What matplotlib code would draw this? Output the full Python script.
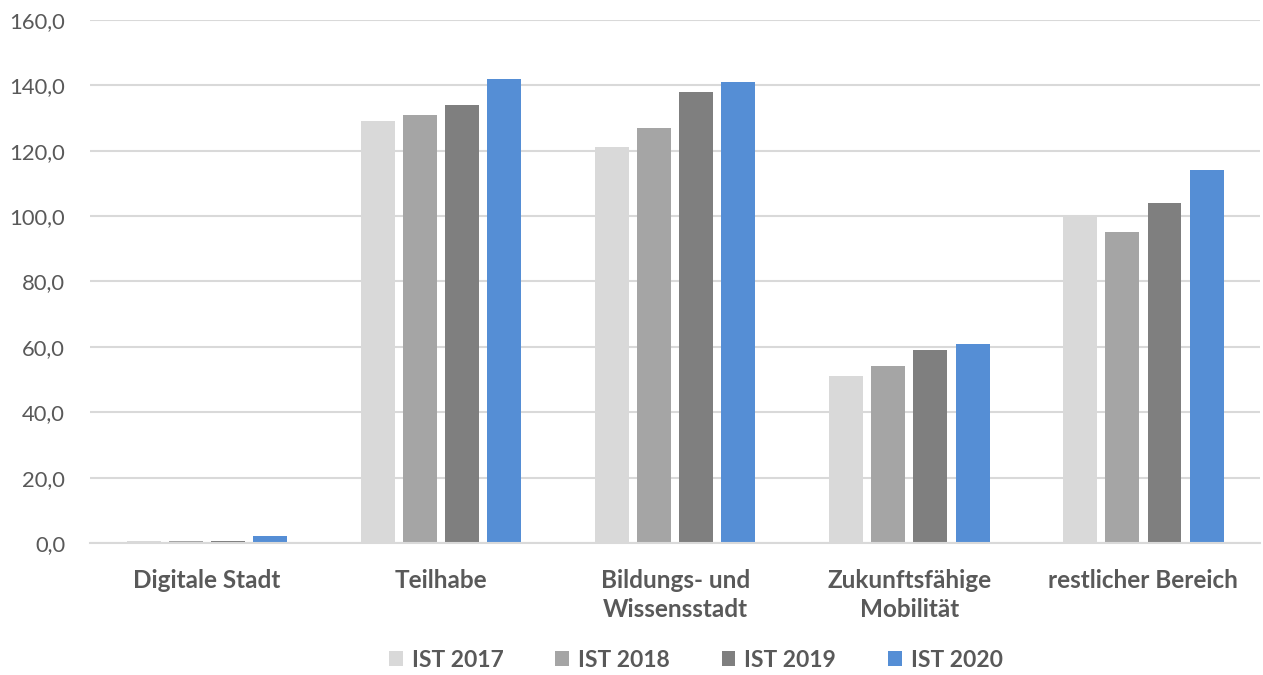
import numpy as np
import matplotlib.pyplot as plt
from matplotlib.ticker import FuncFormatter

plt.rcParams['font.family'] = ['Lato', 'DejaVu Sans']

categories = ['Digitale Stadt', 'Teilhabe', 'Bildungs- und\nWissensstadt',
              'Zukunftsfähige\nMobilität', 'restlicher Bereich']
series_names = ['IST 2017', 'IST 2018', 'IST 2019', 'IST 2020']
ist_2017 = [0.5, 129, 121, 51, 100]
ist_2018 = [0.5, 131, 127, 54, 95]
ist_2019 = [0.5, 134, 138, 59, 104]
ist_2020 = [2.0, 142, 141, 61, 114]
colors = ['#d9d9d9', '#a5a5a5', '#7f7f7f', '#558ed5']

text_col = '#595959'

fig = plt.figure(figsize=(12.63, 6.75), dpi=100)
ax = fig.add_axes([0.0713, 0.1956, 0.9267, 0.7748])

x = np.arange(len(categories))
step = 0.18
width = 0.145
handles = []
for i, (vals, name) in enumerate(zip([ist_2017, ist_2018, ist_2019, ist_2020], series_names)):
    b = ax.bar(x + (i - 1.5) * step, vals, width, color=colors[i], label=name, zorder=3)
    handles.append(b)

ax.set_xlim(-0.5, len(categories) - 0.5)
ax.set_ylim(0, 160)
ax.set_yticks(np.arange(0, 161, 20))
ax.yaxis.set_major_formatter(FuncFormatter(lambda v, p: '{:.1f}'.format(v).replace('.', ',')))
ax.grid(axis='y', color='#d9d9d9', linewidth=1.5, zorder=0)
ax.set_xticks(x)
ax.set_xticklabels(categories, fontweight='bold', fontsize=17.5, color=text_col, linespacing=1.3)
for s in ['top', 'right', 'left']:
    ax.spines[s].set_visible(False)
ax.spines['bottom'].set_color('#d9d9d9')
ax.spines['bottom'].set_linewidth(1.5)
ax.spines['bottom'].set_zorder(4)
ax.tick_params(axis='x', length=0, pad=19)
ax.tick_params(axis='y', length=0, pad=18, labelsize=15.8, labelcolor=text_col)

leg = fig.legend(handles=handles, loc='center', bbox_to_anchor=(0.551, 0.022), ncol=4,
                 frameon=False, handlelength=0.6, handleheight=0.6, handletextpad=0.4,
                 columnspacing=2.25, prop={'weight': 'bold', 'size': 16.5})
for t in leg.get_texts():
    t.set_color(text_col)

fig.savefig('out.png', dpi=100)
